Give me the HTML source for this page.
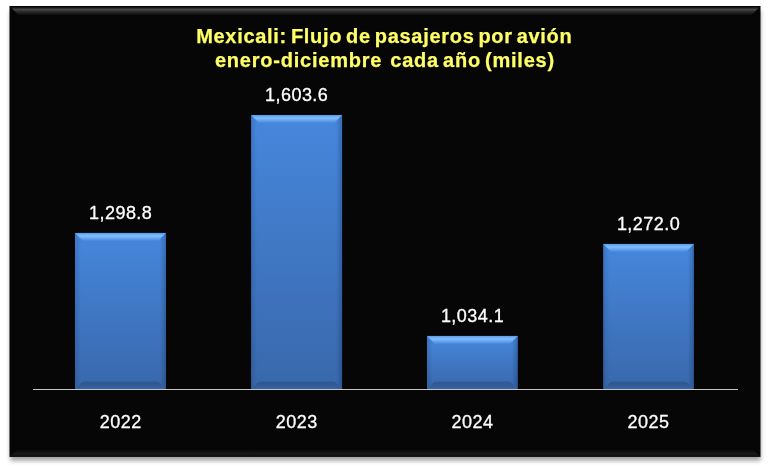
<!DOCTYPE html>
<html lang="es">
<head>
<meta charset="utf-8">
<title>Mexicali: Flujo de pasajeros por avión</title>
<style>
html,body{margin:0;padding:0;background:#fff;}
body{width:770px;height:470px;overflow:hidden;position:relative;}
svg{position:absolute;left:0;top:0;display:block;}
.title{stroke:#ffff66;stroke-width:0.25px;font-family:"Liberation Sans",sans-serif;font-weight:bold;font-size:20px;fill:#ffff66;letter-spacing:0.7px;word-spacing:-2.3px;white-space:pre;}
.lbl{stroke:#fff;stroke-width:0.3px;font-family:"Liberation Sans",sans-serif;font-size:18px;fill:#ffffff;letter-spacing:0.45px;}
</style>
</head>
<body>
<svg width="770" height="470" viewBox="0 0 770 470">
  <defs>
    <filter id="sh" x="-5%" y="-5%" width="110%" height="110%">
      <feGaussianBlur stdDeviation="2.3"/>
    </filter>
    <linearGradient id="face" x1="0" y1="0" x2="0" y2="1">
      <stop offset="0" stop-color="#4687dc"/>
      <stop offset="1" stop-color="#3968ab"/>
    </linearGradient>
    <linearGradient id="topbev" x1="0" y1="0" x2="0" y2="1">
      <stop offset="0" stop-color="#5898e8"/>
      <stop offset="0.38" stop-color="#80c0ff"/>
      <stop offset="1" stop-color="#4787dc"/>
    </linearGradient>
    <linearGradient id="lbev" x1="0" y1="0" x2="1" y2="0">
      <stop offset="0" stop-color="#001040" stop-opacity="0.13"/>
      <stop offset="1" stop-color="#001040" stop-opacity="0"/>
    </linearGradient>
    <linearGradient id="rbev" x1="1" y1="0" x2="0" y2="0">
      <stop offset="0" stop-color="#001040" stop-opacity="0.24"/>
      <stop offset="1" stop-color="#001040" stop-opacity="0"/>
    </linearGradient>
    <linearGradient id="bbev" x1="0" y1="1" x2="0" y2="0">
      <stop offset="0" stop-color="#000820" stop-opacity="0.05"/>
      <stop offset="0.75" stop-color="#000820" stop-opacity="0.20"/>
      <stop offset="1" stop-color="#000820" stop-opacity="0.06"/>
    </linearGradient>
    <linearGradient id="bgbot" x1="0" y1="0" x2="0" y2="1">
      <stop offset="0" stop-color="#080808"/>
      <stop offset="0.55" stop-color="#171717"/>
      <stop offset="1" stop-color="#0c0c0c"/>
    </linearGradient>
    <linearGradient id="bgtop" x1="0" y1="0" x2="0" y2="1">
      <stop offset="0" stop-color="#020202"/>
      <stop offset="0.08" stop-color="#050505"/>
      <stop offset="0.36" stop-color="#484848"/>
      <stop offset="0.6" stop-color="#2a2a2a"/>
      <stop offset="1" stop-color="#070707"/>
    </linearGradient>
  </defs>

  <!-- shadow -->
  <rect x="10.2" y="10.5" width="750.6" height="450.3" fill="#000" opacity="0.36" filter="url(#sh)"/>
  <!-- background panel -->
  <rect x="9.5" y="6" width="751" height="450.8" fill="#060606"/>
  <polygon points="9.5,6 760.5,6 751,15.5 19,15.5" fill="url(#bgtop)"/>
  <polygon points="9.5,456.8 760.5,456.8 753,450 17,450" fill="url(#bgbot)"/>

  <!-- bars -->
  <g id="bars">
    <rect x="75" y="232.9" width="91.0" height="156.1" fill="url(#face)"/>
    <polygon points="75,232.9 166,232.9 158,240.9 83,240.9" fill="url(#topbev)"/>
    <polygon points="75,232.9 81,238.9 81,383 75,389" fill="url(#lbev)"/>
    <polygon points="166,232.9 160,238.9 160,383 166,389" fill="url(#rbev)"/>
    <polygon points="75,389 166,389 158,381 83,381" fill="url(#bbev)"/>
    <rect x="251.1" y="115" width="91.0" height="274.0" fill="url(#face)"/>
    <polygon points="251.1,115 342.1,115 334.1,123 259.1,123" fill="url(#topbev)"/>
    <polygon points="251.1,115 257.1,121 257.1,383 251.1,389" fill="url(#lbev)"/>
    <polygon points="342.1,115 336.1,121 336.1,383 342.1,389" fill="url(#rbev)"/>
    <polygon points="251.1,389 342.1,389 334.1,381 259.1,381" fill="url(#bbev)"/>
    <rect x="427" y="335.9" width="90.8" height="53.1" fill="url(#face)"/>
    <polygon points="427,335.9 517.8,335.9 509.79999999999995,343.9 435,343.9" fill="url(#topbev)"/>
    <polygon points="427,335.9 433,341.9 433,383 427,389" fill="url(#lbev)"/>
    <polygon points="517.8,335.9 511.79999999999995,341.9 511.79999999999995,383 517.8,389" fill="url(#rbev)"/>
    <polygon points="427,389 517.8,389 509.79999999999995,381 435,381" fill="url(#bbev)"/>
    <rect x="603.2" y="243.9" width="90.7" height="145.1" fill="url(#face)"/>
    <polygon points="603.2,243.9 693.9,243.9 685.9,251.9 611.2,251.9" fill="url(#topbev)"/>
    <polygon points="603.2,243.9 609.2,249.9 609.2,383 603.2,389" fill="url(#lbev)"/>
    <polygon points="693.9,243.9 687.9,249.9 687.9,383 693.9,389" fill="url(#rbev)"/>
    <polygon points="603.2,389 693.9,389 685.9,381 611.2,381" fill="url(#bbev)"/>
  </g>

  <!-- axis -->
  <rect x="33" y="389" width="705" height="1" fill="#c6c6c6"/>

  <text class="title" x="384.3" y="42.7" text-anchor="middle">Mexicali: Flujo de pasajeros por avión</text>
  <text class="title" x="384.9" y="66.8" text-anchor="middle" style="letter-spacing:0.78px">enero-diciembre  cada año (miles)</text>

  <text class="lbl" x="120.7" y="218.6" text-anchor="middle">1,298.8</text>
  <text class="lbl" x="296.7" y="101" text-anchor="middle">1,603.6</text>
  <text class="lbl" x="472.5" y="321.9" text-anchor="middle">1,034.1</text>
  <text class="lbl" x="648.5" y="230.1" text-anchor="middle">1,272.0</text>

  <text class="lbl" x="120.7" y="428.3" text-anchor="middle">2022</text>
  <text class="lbl" x="296.7" y="428.3" text-anchor="middle">2023</text>
  <text class="lbl" x="472.5" y="428.3" text-anchor="middle">2024</text>
  <text class="lbl" x="648.5" y="428.3" text-anchor="middle">2025</text>
</svg>
</body>
</html>
